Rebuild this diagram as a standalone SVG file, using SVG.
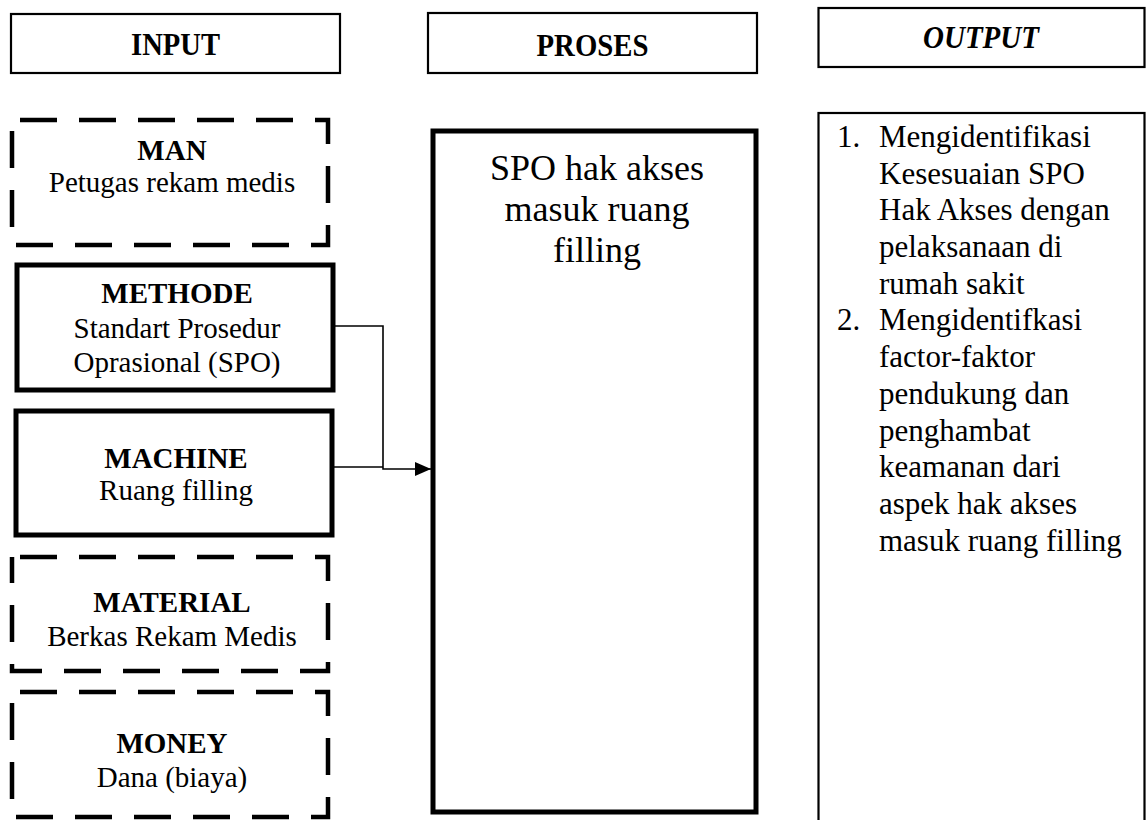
<svg xmlns="http://www.w3.org/2000/svg" width="1147" height="820" viewBox="0 0 1147 820">
<style>
text{font-family:"Liberation Serif","Times New Roman",serif;fill:#000}
.hdr{font-size:32px;font-weight:bold;text-anchor:middle}
.lbl{font-size:29px;text-anchor:middle}
.lbb{font-size:29px;font-weight:bold;text-anchor:middle}
.out{font-size:31px}
.spo{font-size:36px;text-anchor:middle}
.hbox{fill:#fff;stroke:#000;stroke-width:2.2}
.solid{fill:#fff;stroke:#000;stroke-width:5}
.dash{fill:#fff;stroke:#000;stroke-width:4.5;stroke-dasharray:37 22;stroke-dashoffset:51}
.conn{fill:none;stroke:#000;stroke-width:1.6}
</style>
<defs>
<marker id="arr" markerWidth="16" markerHeight="14" refX="16" refY="7" orient="auto" markerUnits="userSpaceOnUse">
<path d="M0,0 L16,7 L0,14 Z" fill="#000"/>
</marker>
</defs>
<rect width="1147" height="820" fill="#fff"/>

<g id="h-input">
<rect class="hbox" x="11" y="14" width="329" height="59"/>
<text class="hdr" x="175.5" y="55" textLength="89" lengthAdjust="spacingAndGlyphs">INPUT</text>
</g>
<g id="h-proses">
<rect class="hbox" x="428" y="13" width="329" height="60"/>
<text class="hdr" x="592.5" y="56" textLength="112" lengthAdjust="spacingAndGlyphs">PROSES</text>
</g>
<g id="h-output">
<rect class="hbox" x="818.5" y="8" width="326" height="59"/>
<text class="hdr" x="981" y="48" font-style="italic" textLength="116" lengthAdjust="spacingAndGlyphs">OUTPUT</text>
</g>

<g id="man">
<rect class="dash" x="12" y="120" width="316" height="125"/>
<text class="lbb" x="172" y="160">MAN</text>
<text class="lbl" x="172" y="192">Petugas rekam medis</text>
</g>
<g id="methode">
<rect class="solid" x="17" y="265" width="316" height="125"/>
<text class="lbb" x="177" y="303">METHODE</text>
<text class="lbl" x="177" y="338">Standart Prosedur</text>
<text class="lbl" x="177" y="372">Oprasional (SPO)</text>
</g>
<g id="machine">
<rect class="solid" x="16" y="411" width="316" height="124"/>
<text class="lbb" x="176" y="468">MACHINE</text>
<text class="lbl" x="176" y="500">Ruang filling</text>
</g>
<g id="material">
<rect class="dash" x="12" y="557" width="316" height="114"/>
<text class="lbb" x="172" y="612">MATERIAL</text>
<text class="lbl" x="172" y="646">Berkas Rekam Medis</text>
</g>
<g id="money">
<rect class="dash" x="12" y="692" width="316" height="125"/>
<text class="lbb" x="172" y="753">MONEY</text>
<text class="lbl" x="172" y="787">Dana (biaya)</text>
</g>

<g id="proses">
<rect class="solid" x="433" y="131" width="323" height="681"/>
<text class="spo" x="597" y="180">SPO hak akses</text>
<text class="spo" x="597" y="221">masuk ruang</text>
<text class="spo" x="597" y="262">filling</text>
</g>

<g id="output">
<rect class="hbox" x="818.5" y="113" width="326" height="720" stroke-width="1.8"/>
<text class="out" x="837" y="147">1.</text>
<text class="out" x="879" y="147">Mengidentifikasi</text>
<text class="out" x="879" y="184">Kesesuaian SPO</text>
<text class="out" x="879" y="220">Hak Akses dengan</text>
<text class="out" x="879" y="257">pelaksanaan di</text>
<text class="out" x="879" y="294">rumah sakit</text>
<text class="out" x="837" y="330">2.</text>
<text class="out" x="879" y="330">Mengidentifkasi</text>
<text class="out" x="879" y="367">factor-faktor</text>
<text class="out" x="879" y="404">pendukung dan</text>
<text class="out" x="879" y="441">penghambat</text>
<text class="out" x="879" y="477">keamanan dari</text>
<text class="out" x="879" y="514">aspek hak akses</text>
<text class="out" x="879" y="551">masuk ruang filling</text>
</g>

<g id="connectors">
<path class="conn" d="M335,326 H383 V469 H431" marker-end="url(#arr)"/>
<path class="conn" d="M334,467 H383"/>
</g>
</svg>
